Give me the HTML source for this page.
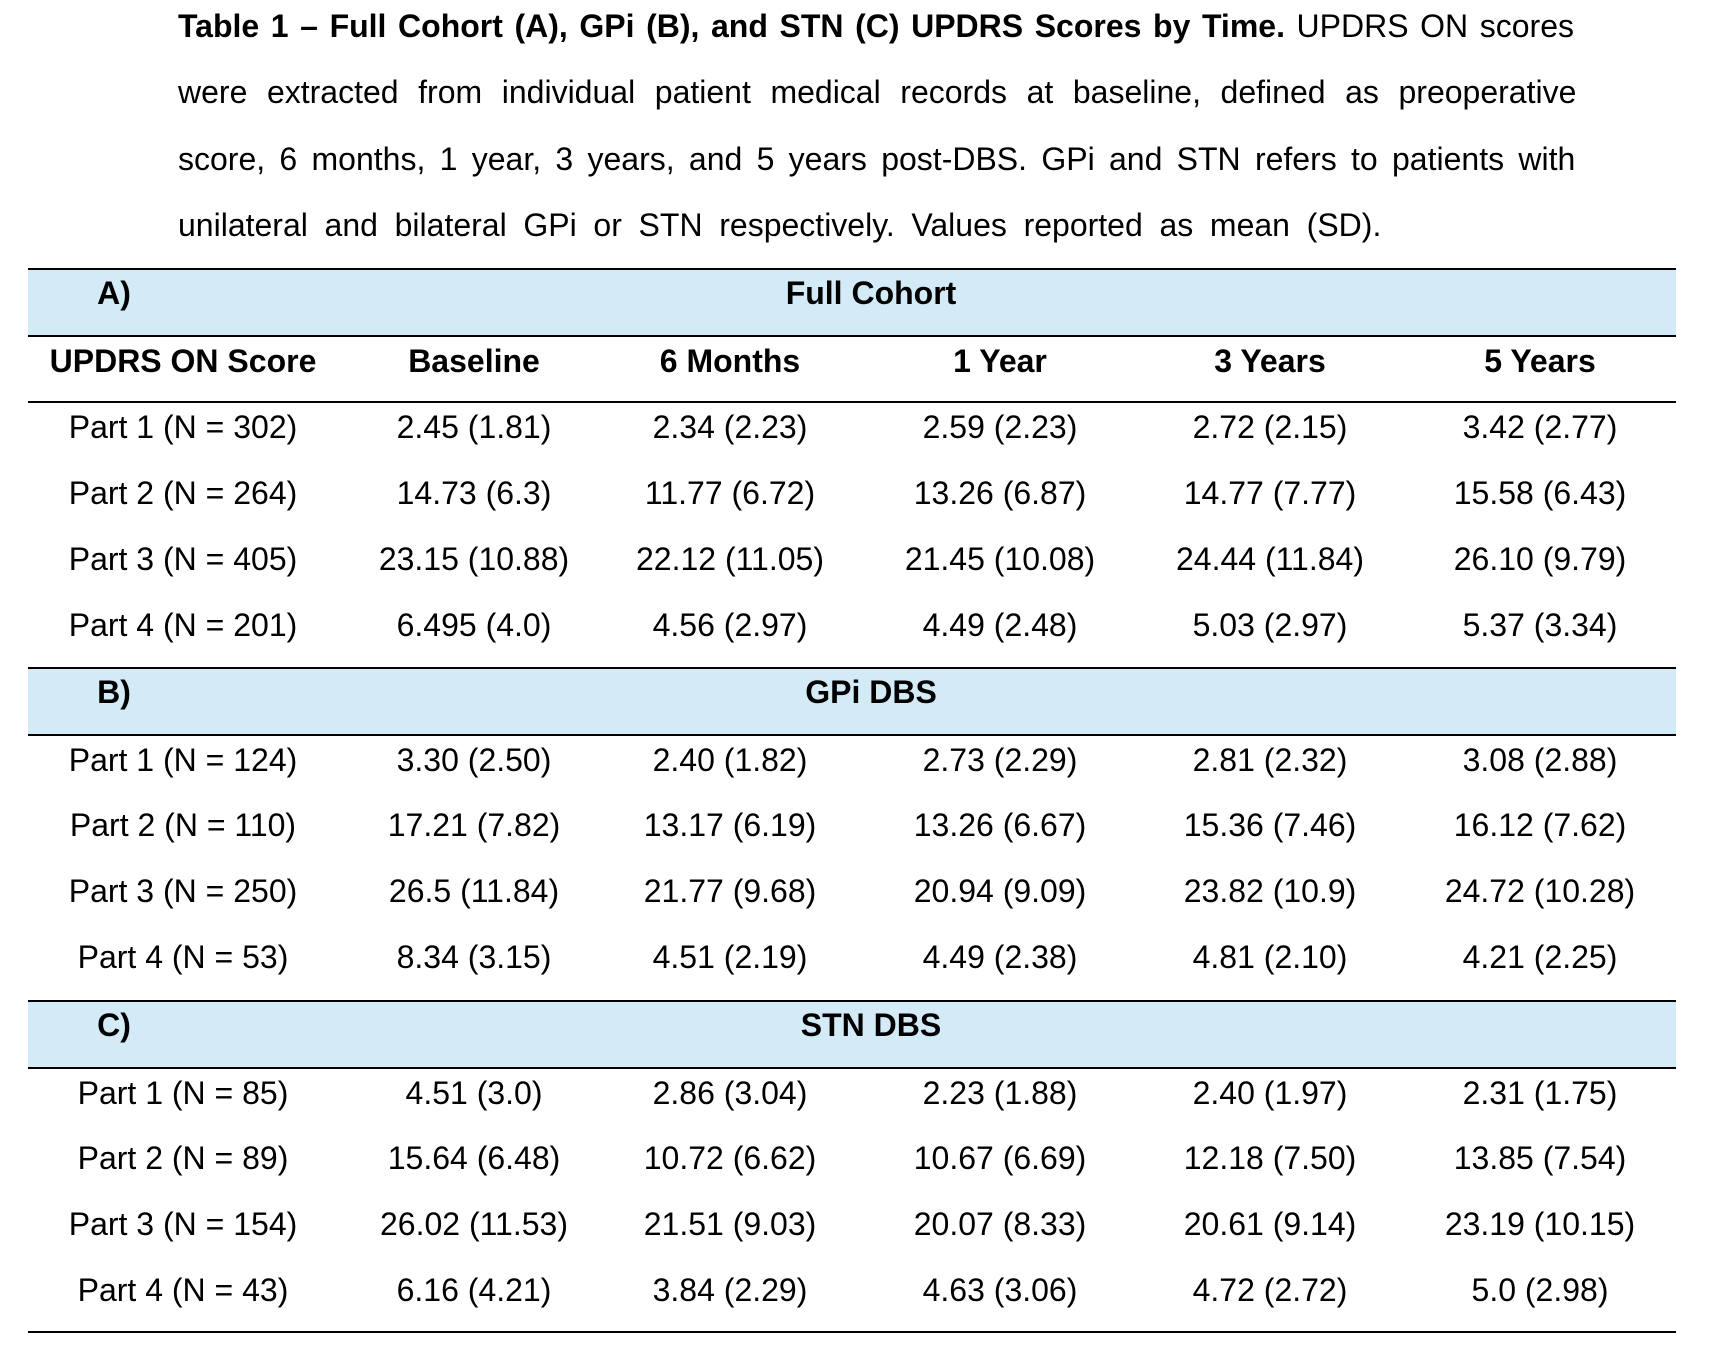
<!DOCTYPE html>
<html><head><meta charset="utf-8"><style>
body{margin:0;width:1726px;height:1354px;background:#fff;position:relative;overflow:hidden;font-family:"Liberation Sans",sans-serif;color:#000}
.cap{position:absolute;left:178px;font-size:32px;white-space:nowrap;line-height:38px}
.band{position:absolute;left:28px;width:1648px;background:#d2ebf7}
.hl{position:absolute;left:28px;width:1648px;height:2px;background:#000}
.c{position:absolute;width:300px;text-align:center;font-size:32px;line-height:38px;white-space:nowrap}
.b{font-weight:bold}
</style></head><body>
<div class="cap" style="top:7px;word-spacing:2.7px"><b>Table 1 – Full Cohort (A), GPi (B), and STN (C) UPDRS Scores by Time.</b> UPDRS ON scores</div>
<div class="cap" style="top:73px;word-spacing:10.7px">were extracted from individual patient medical records at baseline, defined as preoperative</div>
<div class="cap" style="top:140px;word-spacing:5.4px">score, 6 months, 1 year, 3 years, and 5 years post-DBS. GPi and STN refers to patients with</div>
<div class="cap" style="top:206px;word-spacing:7.8px">unilateral and bilateral GPi or STN respectively. Values reported as mean (SD).</div>

<div class="band" style="top:269px;height:67px"></div>
<div class="band" style="top:668px;height:67px"></div>
<div class="band" style="top:1001px;height:67px"></div>
<div class="hl" style="top:268px"></div>
<div class="hl" style="top:335px"></div>
<div class="hl" style="top:401px"></div>
<div class="hl" style="top:667px"></div>
<div class="hl" style="top:734px"></div>
<div class="hl" style="top:1000px"></div>
<div class="hl" style="top:1067px"></div>
<div class="hl" style="top:1331px"></div>

<div id="t"></div>
<script>
const cx=[183,474,730,1000,1270,1540];
let h='';
function row(y,cells,bold){cells.forEach((t,i)=>{h+=`<div class="c${bold?' b':''}" style="left:${cx[i]-150}px;top:${y-19}px">${t}</div>`;});}
function band(y,l,t){h+=`<div class="c b" style="left:${114-150}px;top:${y-19}px">${l}</div><div class="c b" style="left:${871-150}px;top:${y-19}px">${t}</div>`;}
band(293,'A)','Full Cohort');
row(361,['UPDRS ON Score','Baseline','6 Months','1 Year','3 Years','5 Years'],true);
const A=[['Part 1 (N = 302)','2.45 (1.81)','2.34 (2.23)','2.59 (2.23)','2.72 (2.15)','3.42 (2.77)'],
['Part 2 (N = 264)','14.73 (6.3)','11.77 (6.72)','13.26 (6.87)','14.77 (7.77)','15.58 (6.43)'],
['Part 3 (N = 405)','23.15 (10.88)','22.12 (11.05)','21.45 (10.08)','24.44 (11.84)','26.10 (9.79)'],
['Part 4 (N = 201)','6.495 (4.0)','4.56 (2.97)','4.49 (2.48)','5.03 (2.97)','5.37 (3.34)']];
const B=[['Part 1 (N = 124)','3.30 (2.50)','2.40 (1.82)','2.73 (2.29)','2.81 (2.32)','3.08 (2.88)'],
['Part 2 (N = 110)','17.21 (7.82)','13.17 (6.19)','13.26 (6.67)','15.36 (7.46)','16.12 (7.62)'],
['Part 3 (N = 250)','26.5 (11.84)','21.77 (9.68)','20.94 (9.09)','23.82 (10.9)','24.72 (10.28)'],
['Part 4 (N = 53)','8.34 (3.15)','4.51 (2.19)','4.49 (2.38)','4.81 (2.10)','4.21 (2.25)']];
const C=[['Part 1 (N = 85)','4.51 (3.0)','2.86 (3.04)','2.23 (1.88)','2.40 (1.97)','2.31 (1.75)'],
['Part 2 (N = 89)','15.64 (6.48)','10.72 (6.62)','10.67 (6.69)','12.18 (7.50)','13.85 (7.54)'],
['Part 3 (N = 154)','26.02 (11.53)','21.51 (9.03)','20.07 (8.33)','20.61 (9.14)','23.19 (10.15)'],
['Part 4 (N = 43)','6.16 (4.21)','3.84 (2.29)','4.63 (3.06)','4.72 (2.72)','5.0 (2.98)']];
[427,493,559,625].forEach((y,i)=>row(y,A[i]));
band(692,'B)','GPi DBS');
[760,825,891,957].forEach((y,i)=>row(y,B[i]));
band(1025,'C)','STN DBS');
[1093,1158,1224,1290].forEach((y,i)=>row(y,C[i]));
document.getElementById('t').innerHTML=h;
</script>
</body></html>
